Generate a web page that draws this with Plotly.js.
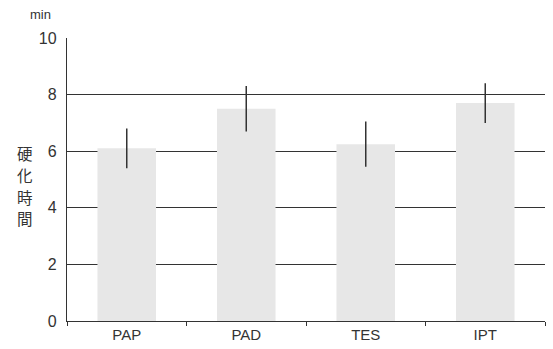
<!DOCTYPE html>
<html>
<head>
<meta charset="utf-8">
<script src="https://cdn.plot.ly/plotly-3.0.1.min.js"></script>
<style>
  html, body { margin: 0; padding: 0; background: #fff; }
  #chart { width: 553px; height: 349px; }
</style>
</head>
<body>
<div id="chart"></div>
<script>
// Hardening time per material (minutes), mean and spread
const categories = ['PAP', 'PAD', 'TES', 'IPT'];
const meanMinutes = [6.1, 7.5, 6.25, 7.7];
const spreadMinutes = [0.7, 0.8, 0.8, 0.7];
const yTicks = [0, 2, 4, 6, 8, 10];
const yTitleChars = ['硬', '化', '時', '間'];

const font = 'Liberation Sans, Arial, sans-serif';

const trace = {
  type: 'bar',
  x: categories,
  y: meanMinutes,
  marker: { color: '#e7e7e7', line: { width: 0 } },
  error_y: {
    type: 'data',
    array: spreadMinutes,
    visible: true,
    color: '#333',
    thickness: 1.5,
    width: 0
  },
  width: 0.49,
  hoverinfo: 'none'
};

// vertical title: one annotation per character, stacked downwards
const titleAnnotations = yTitleChars.map((ch, i) => ({
  text: ch,
  xref: 'paper', yref: 'paper',
  x: -0.088, y: 0.592 - i * 0.0765,
  xanchor: 'center', yanchor: 'middle',
  showarrow: false,
  borderpad: 0,
  font: { size: 15.5, color: '#333', family: 'Noto Sans CJK JP, sans-serif' }
}));

const layout = {
  width: 553,
  height: 349,
  margin: { l: 67, r: 8, t: 38, b: 28 },
  paper_bgcolor: '#fff',
  plot_bgcolor: '#fff',
  showlegend: false,
  font: { family: font, color: '#333' },
  xaxis: {
    type: 'category',
    tickson: 'boundaries',
    ticks: 'outside',
    ticklen: 4,
    tickcolor: '#333',
    showline: true,
    linecolor: '#333',
    linewidth: 1.2,
    showgrid: false,
    tickfont: { size: 15, color: '#333' }
  },
  yaxis: {
    range: [0, 10],
    tickvals: yTicks,
    ticktext: yTicks.map(String),
    showgrid: true,
    gridcolor: '#333',
    gridwidth: 1.2,
    zeroline: false,
    showline: true,
    linecolor: '#333',
    linewidth: 1.2,
    ticks: '',
    ticklabelstandoff: 6,
    tickfont: { size: 16, color: '#333' }
  },
  annotations: [
    {
      text: 'min',
      xref: 'paper', yref: 'paper',
      x: -0.03, y: 1.05,
      xanchor: 'right', yanchor: 'bottom',
      showarrow: false,
      font: { size: 13, color: '#333' }
    }
  ].concat(titleAnnotations)
};

Plotly.newPlot('chart', [trace], layout, { displayModeBar: false, staticPlot: true });
</script>
</body>
</html>
